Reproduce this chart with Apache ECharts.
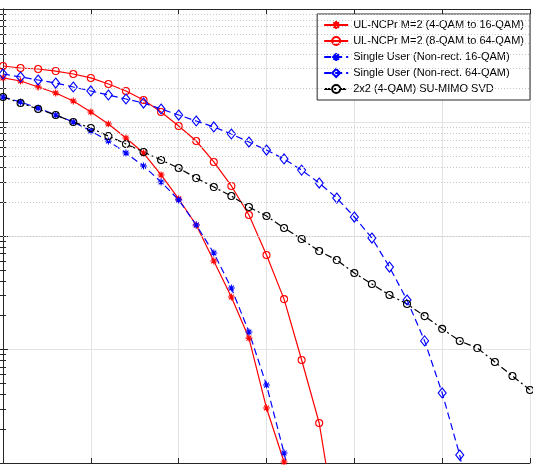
<!DOCTYPE html>
<html><head><meta charset="utf-8">
<script src="https://cdn.jsdelivr.net/npm/echarts@6/dist/echarts.min.js"></script>
<style>html,body{margin:0;padding:0;background:#fff}#c{width:533px;height:465px}</style>
</head><body><div id="c"></div>
<script>
var xTicks = [0, 5, 10, 15, 20, 25, 30];
var names = [
  'UL-NCPr M=2 (4-QAM to 16-QAM)',
  'UL-NCPr M=2 (8-QAM to 64-QAM)',
  'Single User (Non-rect. 16-QAM)',
  'Single User (Non-rect. 64-QAM)',
  '2x2 (4-QAM) SU-MIMO SVD'
];
var ncpr16 = [0.247,0.232,0.2055,0.182,0.1546,0.1238,0.097,0.073,0.0538,0.0345,0.0212,0.0125,0.00602,0.0029,0.00126,0.000305,0.000102,0.0000209];
var ncpr64 = [0.3147,0.302,0.296,0.284,0.2676,0.247,0.2184,0.1895,0.1578,0.1238,0.0931,0.0687,0.0449,0.0276,0.0153,0.0068,0.00278,0.000808,0.000225,0.0000257];
var su16 = [0.1677,0.1516,0.1341,0.1164,0.101,0.0842,0.0687,0.0538,0.0414,0.0299,0.0208,0.0125,0.00708,0.00348,0.001426,0.000486,0.0001225,0.0000257];
var su64 = [0.2676,0.2518,0.2368,0.2228,0.2055,0.1895,0.1747,0.1611,0.1485,0.1315,0.1164,0.1031,0.0913,0.0792,0.0673,0.0572,0.0477,0.0381,0.0293,0.0216,0.0147,0.0096,0.00533,0.00273,0.00119,0.000414,0.0001176,0.0000209];
var mimo = [0.1677,0.1485,0.1315,0.1164,0.101,0.0894,0.076,0.0646,0.055,0.0467,0.0397,0.0324,0.027,0.0225,0.018,0.015,0.01176,0.0094,0.00737,0.00614,0.00472,0.00378,0.00302,0.00252,0.00197,0.00152,0.00119,0.00103,0.000776,0.000584,0.00044];
var minorY = [];
[1e-4,1e-3,1e-2,1e-1].forEach(function(d){for(var m=2;m<=9;m++) minorY.push(+(m*d).toPrecision(3));});

function pairs(arr){return arr.map(function(v,i){return [i,v];});}
var star = 'path://M0,-1L0,1M-1,0L1,0M-0.7,-0.7L0.7,0.7M-0.7,0.7L0.7,-0.7';
var AX = '#262626';

var chart = echarts.init(document.getElementById('c'), null, {renderer:'canvas'});
function mkSeries(name, data, color, dash, sym, size){
  return {
    name: name, type: 'line', data: pairs(data), xAxisIndex: 0, yAxisIndex: 0,
    symbol: sym, symbolSize: size, showAllSymbol: true, clip: true,
    lineStyle: {color: color, width: 1.2, type: dash},
    itemStyle: {color: 'rgba(255,255,255,0)', borderColor: color, borderWidth: 1.1},
    emphasis: {disabled: true}, animation: false
  };
}
var series = [
  mkSeries(names[0], ncpr16, '#ff0000', 'solid', star, 7),
  mkSeries(names[1], ncpr64, '#ff0000', 'solid', 'circle', 7),
  mkSeries(names[2], su16, '#0000ff', [7,4], star, 7),
  mkSeries(names[3], su64, '#0000ff', [7,4], 'diamond', [8,10]),
  mkSeries(names[4], mimo, '#000000', [7,3,2,3], 'circle', 7)
];
series[0].markLine = {
  silent: true, symbol: 'none', animation: false,
  label: {show: false},
  lineStyle: {color: '#c8c8c8', width: 1, type: [1,2]},
  data: minorY.map(function(v){return {yAxis: v};})
};
var yBase = {type:'log', logBase:10, min:1e-4, max:1, gridIndex:0,
  axisLine:{show:true, lineStyle:{color:AX, width:1}},
  axisTick:{show:true, inside:true, length:5, lineStyle:{color:AX}},
  minorTick:{show:true, splitNumber:9, length:3, lineStyle:{color:AX}},
  axisLabel:{show:false}};
var xBase = {type:'value', min:0, max:30, interval:5, gridIndex:0,
  axisLine:{show:true, onZero:false, lineStyle:{color:AX, width:1}},
  axisTick:{show:true, inside:true, length:5, lineStyle:{color:AX}},
  axisLabel:{show:false}};
chart.setOption({
  animation: false,
  backgroundColor: '#fff',
  grid: {left:3, right:3, top:9, bottom:2, containLabel:false},
  xAxis: [
    Object.assign({}, xBase, {position:'bottom', splitLine:{show:true, lineStyle:{color:'#e3e3e3', width:1}}}),
    Object.assign({}, xBase, {position:'top', splitLine:{show:false}})
  ],
  yAxis: [
    Object.assign({}, yBase, {position:'left', splitLine:{show:true, lineStyle:{color:'#e3e3e3', width:1}}}),
    Object.assign({}, yBase, {position:'right', splitLine:{show:false}})
  ],
  legend: {
    orient:'vertical', right:3, top:14, data: names,
    itemWidth:24, itemHeight:10, itemGap:2,
    padding:[4,6,4,6],
    backgroundColor:'#fff', borderColor:AX, borderWidth:1,
    textStyle:{fontFamily:'Liberation Sans, Arial, sans-serif', fontSize:11, lineHeight:14, color:'#000'},
    selectedMode:false
  },
  series: series
});
</script></body></html>
